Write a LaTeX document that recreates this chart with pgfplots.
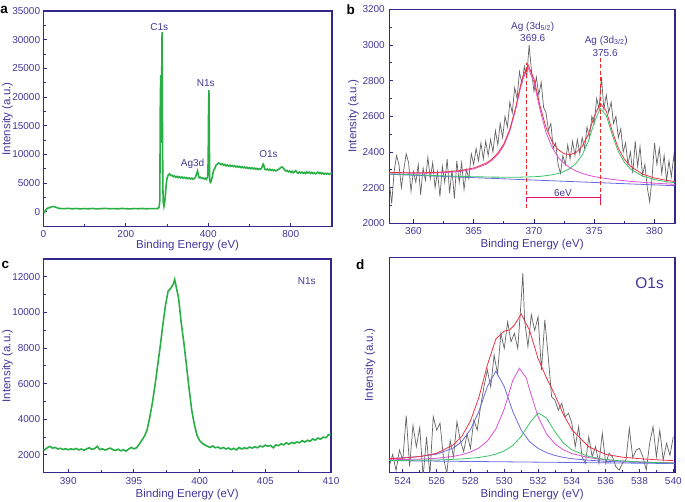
\documentclass[border=0pt]{standalone}
\usepackage{fontspec}
\setmainfont{Liberation Sans}
\usepackage{pgfplots}
\pgfplotsset{compat=1.18}
\definecolor{axblue}{RGB}{50,40,140}
\definecolor{txblue}{RGB}{65,55,155}
\definecolor{sgreen}{RGB}{40,175,70}
\definecolor{gtrace}{RGB}{100,100,100}
\definecolor{fred}{RGB}{238,50,70}
\definecolor{fmag}{RGB}{222,80,210}
\definecolor{fgreen}{RGB}{60,195,105}
\definecolor{fblue}{RGB}{105,105,225}
\definecolor{dred}{RGB}{235,40,40}
\definecolor{crim}{RGB}{230,20,100}
\pgfplotsset{
 myax/.style={
  scale only axis, anchor=south west,
  axis line style={draw=axblue, line width=1.3pt},
  tick style={draw=axblue, line width=0.9pt},
  tick align=inside, tick pos=left,
  major tick length=4pt, minor tick length=2.5pt,
  tick label style={font=\fontsize{10}{12}\selectfont, text=txblue, inner sep=0pt},
  label style={font=\fontsize{11.5}{13}\selectfont, text=txblue},
  scaled ticks=false,
  /pgf/number format/assume math mode=true,
  /pgf/number format/set thousands separator={},
  ylabel={Intensity (a.u.)},
  xlabel={Binding Energy (eV)},
  clip=true,
 },
}
\begin{document}
\begin{tikzpicture}
\useasboundingbox (0,0) rectangle (685pt,501pt);
% ---------------- panel a ----------------
\begin{axis}[myax, at={(43.3pt,274.3pt)}, width=288.7pt, height=215.7pt,
  xmin=0, xmax=700, ymin=-2620, ymax=35000,
  xtick={0,200,400,600}, xticklabels={0,200,400,800}, minor xtick={100,300,500},
  ytick={0,5000,...,35000}, minor ytick={2500,7500,...,32500},
  xticklabel style={anchor=north, yshift=-3.6pt},
  yticklabel style={anchor=east, xshift=-3pt},
  xlabel style={at={(axis description cs:0.5,0)}, anchor=base, yshift=-21.8pt},
  ylabel style={at={([xshift=-36pt]axis description cs:0,0.5)}, anchor=center}]
\addplot[sgreen, line width=1.6pt] coordinates {
(0,100) (3,-100) (6,300) (10,600) (15,700) (20,850) (25,900) (30,780) (35,650) (40,560)
(50,520) (60,580) (70,500) (80,560) (90,480) (100,540) (110,500) (120,560) (130,490) (140,530)
(150,580) (160,510) (170,540) (180,490) (190,560) (200,520) (210,480) (220,550) (230,510) (240,560)
(250,500) (260,540) (270,520) (278,560) (281,800) (282.5,2000) (283.7,18500) (284.7,23800) (285.7,12000)
(286.7,20000) (288,31300) (289,14000) (290,4000) (291,1500) (292.5,900) (294,1400) (296,2900)
(298,4700) (300,5800) (303,6400) (306,6600) (309,6300) (312,6350) (315,6100) (318,6250) (321,6000)
(324,6150) (327,5950) (330,6100) (333,5900) (336,6050) (339,5850) (342,6000) (345,5800) (348,5950)
(351,5750) (354,5900) (357,5700) (360,5850) (363,5650) (366,5800) (369,6000) (372,6700) (374,7100)
(376,6400) (378,5900) (381,6000) (384,5800) (387,5900) (390,5700) (393,5850) (395,5650) (397,5900)
(398.5,6000) (399.8,9000) (400.7,17000) (401.6,21200) (402.5,13000) (403.5,5500) (405,5100)
(407,5300) (410,6200) (413,7200) (416,7600) (419,8100) (422,8300) (425,8500) (428,8400) (431,8200)
(434,8350) (437,8100) (440,8250) (443,8000) (446,8150) (449,7950) (452,8100) (455,7900) (458,8050)
(461,7850) (464,8000) (467,7800) (470,7950) (473,7750) (476,7900) (479,7700) (482,7850) (485,7650)
(488,7800) (491,7600) (494,7750) (497,7550) (500,7700) (503,7500) (506,7650) (509,7450) (512,7600)
(515,7400) (518,7550) (521,7350) (524,7500) (527,7400) (530,7700) (533,8300) (535,8000) (537,7400)
(540,7300) (543,7450) (546,7250) (549,7400) (552,7200) (555,7350) (558,7150) (561,7300) (564,7100)
(567,7250) (570,7350) (573,7500) (576,7700) (579,7800) (582,7600) (585,7300) (588,7100) (591,7200)
(594,6950) (597,7100) (600,6850) (603,7050) (606,6800) (609,6950) (612,7150) (615,6850) (618,6700)
(621,6950) (624,6750) (627,6900) (630,6700) (633,6850) (636,6650) (639,6950) (642,6750) (645,6900)
(648,6700) (651,6850) (654,6650) (657,6800) (660,6600) (663,6750) (666,6900) (669,6650) (672,6800)
(675,6600) (678,6750) (681,6550) (684,6700) (687,6550) (690,6700) (693,6500) (696,6650) (700,6700)};
\node[font=\fontsize{10}{12}\selectfont, text=txblue] at (axis cs:281,32200) {C1s};
\node[font=\fontsize{10}{12}\selectfont, text=txblue] at (axis cs:394,22500) {N1s};
\node[font=\fontsize{10}{12}\selectfont, text=txblue] at (axis cs:362,8300) {Ag3d};
\node[font=\fontsize{10}{12}\selectfont, text=txblue] at (axis cs:546,10060) {O1s};
\end{axis}
% ---------------- panel b ----------------
\begin{axis}[myax, at={(389.3pt,277.7pt)}, width=285.7pt, height=214pt,
  xmin=358, xmax=381.7, ymin=2000, ymax=3200,
  xtick={360,365,...,380}, minor xtick={362.5,367.5,372.5,377.5},
  ytick={2000,2200,...,3200}, minor ytick={2100,2300,...,3100},
  xticklabel style={anchor=north, yshift=-4.4pt},
  yticklabel style={anchor=east, xshift=-4.3pt},
  xlabel style={at={(axis description cs:0.5,0)}, anchor=base, yshift=-24pt},
  ylabel style={at={([xshift=-36pt]axis description cs:0,0.5)}, anchor=center}]
\addplot[gtrace, line width=0.7pt] coordinates {
(358.0,2230) (358.2,2110) (358.4,2290) (358.6,2380) (358.8,2330) (359.0,2200) (359.2,2300) (359.4,2390)
(359.6,2340) (359.8,2180) (360.0,2290) (360.2,2230) (360.4,2330) (360.6,2160) (360.8,2310) (361.0,2240)
(361.2,2370) (361.4,2250) (361.6,2340) (361.8,2200) (362.0,2290) (362.2,2150) (362.4,2320) (362.6,2230)
(362.8,2360) (363.0,2170) (363.2,2300) (363.4,2140) (363.6,2350) (363.8,2230) (364.0,2340) (364.2,2190)
(364.4,2300) (364.6,2250) (364.8,2390) (365.0,2330) (365.2,2420) (365.4,2350) (365.6,2450) (365.8,2360)
(366.0,2460) (366.2,2380) (366.4,2470) (366.6,2400) (366.8,2520) (367.0,2440) (367.2,2560) (367.4,2480)
(367.6,2600) (367.8,2540) (368.0,2680) (368.2,2620) (368.4,2760) (368.6,2700) (368.8,2850) (369.0,2780)
(369.2,2880) (369.4,2820) (369.6,3000) (369.8,2850) (370.0,2740) (370.2,2820) (370.4,2720) (370.6,2790)
(370.8,2650) (371.0,2620) (371.2,2520) (371.4,2560) (371.6,2420) (371.8,2450) (372.0,2330) (372.2,2280)
(372.4,2380) (372.6,2330) (372.8,2440) (373.0,2360) (373.2,2460) (373.4,2380) (373.6,2470) (373.8,2390)
(374.0,2480) (374.2,2420) (374.4,2540) (374.6,2480) (374.8,2600) (375.0,2560) (375.2,2700) (375.4,2640)
(375.6,2820) (375.8,2640) (376.0,2720) (376.2,2620) (376.4,2680) (376.6,2560) (376.8,2600) (377.0,2480)
(377.2,2530) (377.4,2400) (377.6,2450) (377.8,2330) (378.0,2400) (378.2,2280) (378.4,2460) (378.6,2320)
(378.8,2430) (379.0,2270) (379.2,2330) (379.4,2200) (379.6,2120) (379.8,2260) (380.0,2450) (380.2,2330)
(380.4,2420) (380.6,2280) (380.8,2380) (381.0,2240) (381.2,2350) (381.4,2260) (381.6,2380) (381.8,2230)
(382.0,2270)};
\addplot[fblue, line width=0.8pt] coordinates {(358,2275) (382,2210)};
\addplot[fgreen, line width=0.8pt] coordinates {
(358,2277) (359,2275) (360,2272) (361,2270) (362,2267) (363,2265) (364,2263) (365,2261) (366,2260)
(366.5,2259) (367,2259) (367.5,2258) (368,2258) (368.5,2258) (369,2259) (369.5,2260) (370,2261)
(370.5,2263) (371,2267) (371.5,2272) (372,2279) (372.5,2291) (373,2308) (373.5,2337) (374,2383)
(374.5,2458) (375,2565) (375.5,2645) (376,2604) (376.5,2494) (377,2402) (377.5,2342) (378,2305)
(379,2265) (380,2245) (381,2233) (382,2225)};
\addplot[fmag, line width=0.8pt] coordinates {
(358,2283) (359,2282) (360,2281) (361,2281) (362,2283) (363,2286) (364,2292) (365,2305) (366,2330)
(366.5,2352) (367,2385) (367.5,2436) (368,2518) (368.5,2643) (369,2794) (369.5,2874) (370,2792)
(370.5,2637) (371,2510) (371.5,2426) (372,2371) (372.5,2335) (373,2311) (373.5,2293) (374,2280)
(374.5,2270) (375,2262) (375.5,2256) (376,2251) (376.5,2246) (377,2242) (377.5,2239) (378,2235)
(379,2230) (380,2225) (381,2221) (382,2217)};
\addplot[fred, line width=0.8pt] coordinates {
(358,2285) (359,2284) (360,2284) (361,2284) (362,2286) (363,2290) (364,2297) (365,2310) (366,2336)
(366.5,2359) (367,2393) (367.5,2445) (368,2528) (368.5,2654) (369,2808) (369.5,2890) (370,2810)
(370.5,2659) (371,2537) (371.5,2459) (372,2413) (372.5,2390) (373,2385) (373.5,2397) (374,2431)
(374.5,2498) (375,2599) (375.5,2673) (376,2629) (376.5,2515) (377,2420) (377.5,2359) (378,2320)
(379,2276) (380,2254) (381,2241) (382,2231)};
\addplot[dred, line width=1.4pt, dash pattern=on 4pt off 2.5pt] coordinates {(369.4,2085) (369.4,2900)};
\addplot[dred, line width=1.4pt, dash pattern=on 4pt off 2.5pt] coordinates {(375.5,2105) (375.5,2930)};
\addplot[crim, line width=1.4pt] coordinates {(369.4,2120) (369.4,2144) (375.5,2144) (375.5,2120)};
\node[font=\fontsize{10}{12}\selectfont, text=txblue] at (axis cs:369.9,3102) {Ag (3d\textsubscript{5/2})};
\node[font=\fontsize{10}{12}\selectfont, text=txblue] at (axis cs:369.9,3037) {369.6};
\node[font=\fontsize{10}{12}\selectfont, text=txblue] at (axis cs:376.0,3024) {Ag (3d\textsubscript{3/2})};
\node[font=\fontsize{10}{12}\selectfont, text=txblue] at (axis cs:375.9,2953) {375.6};
\node[font=\fontsize{10}{12}\selectfont, text=txblue] at (axis cs:372.4,2172) {6eV};
\end{axis}
% ---------------- panel c ----------------
\begin{axis}[myax, at={(43.3pt,28.3pt)}, width=287.7pt, height=213.7pt,
  xmin=388.1, xmax=410, ymin=1000, ymax=13000,
  xtick={390,395,...,410}, minor xtick={392.5,397.5,402.5,407.5},
  ytick={2000,4000,...,12000}, minor ytick={3000,5000,...,11000},
  xticklabel style={anchor=north, yshift=-4.6pt},
  yticklabel style={anchor=east, xshift=-3pt},
  xlabel style={at={(axis description cs:0.5,0)}, anchor=base, yshift=-25.2pt},
  ylabel style={at={([xshift=-36pt]axis description cs:0,0.5)}, anchor=center}]
\addplot[sgreen, line width=1.6pt] coordinates {
(388.0,2330) (388.2,2280) (388.4,2400) (388.6,2480) (388.8,2380) (389.0,2420) (389.2,2330) (389.4,2370)
(389.6,2300) (389.8,2350) (390.0,2290) (390.2,2340) (390.4,2300) (390.6,2360) (390.8,2280) (391.0,2330)
(391.2,2260) (391.4,2340) (391.6,2400) (391.8,2310) (392.0,2350) (392.2,2480) (392.4,2300) (392.6,2340)
(392.8,2270) (393.0,2330) (393.2,2380) (393.4,2290) (393.6,2250) (393.8,2320) (394.0,2230) (394.2,2290)
(394.4,2210) (394.6,2330) (394.8,2420) (395.0,2340) (395.2,2400) (395.4,2600) (395.6,2820) (395.8,3050)
(396.0,3400) (396.2,4100) (396.4,4900) (396.6,5900) (396.8,7000) (397.0,8100) (397.2,9300) (397.4,10400)
(397.6,11200) (397.8,11350) (398.0,11600) (398.1,11850) (398.2,11500) (398.4,10800) (398.6,9400)
(398.8,8300) (399.0,7000) (399.2,5700) (399.4,4500) (399.6,3700) (399.8,3100) (400.0,2800) (400.2,2650)
(400.4,2560) (400.6,2480) (400.8,2420) (401.0,2500) (401.2,2400) (401.4,2440) (401.6,2350) (401.8,2420)
(402.0,2330) (402.2,2390) (402.4,2300) (402.6,2370) (402.8,2280) (403.0,2420) (403.2,2330) (403.4,2400)
(403.6,2350) (403.8,2440) (404.0,2380) (404.2,2460) (404.4,2400) (404.6,2500) (404.8,2450) (405.0,2550)
(405.2,2480) (405.4,2530) (405.6,2400) (405.8,2560) (406.0,2520) (406.2,2620) (406.4,2560) (406.6,2680)
(406.8,2600) (407.0,2700) (407.2,2640) (407.4,2730) (407.6,2680) (407.8,2800) (408.0,2720) (408.2,2820)
(408.4,2760) (408.6,2900) (408.8,2830) (409.0,2950) (409.2,2880) (409.4,3000) (409.6,2960) (409.8,3120)
(410.0,3150)};
\node[font=\fontsize{10}{12}\selectfont, text=txblue] at (axis cs:408.15,11775) {N1s};
\end{axis}
% ---------------- panel d ----------------
\begin{axis}[myax, at={(389.3pt,28.3pt)}, width=285.7pt, height=215.4pt,
  xmin=523.2, xmax=540.1, ymin=0, ymax=100,
  xtick={524,526,...,540}, minor xtick={525,527,...,539}, ytick=\empty,
  xticklabel style={anchor=north, yshift=-5pt},
  xlabel style={at={(axis description cs:0.5,0)}, anchor=base, yshift=-25.2pt},
  ylabel style={at={([xshift=-19.3pt]axis description cs:0,0.5)}, anchor=center}]
\addplot[gtrace, line width=0.7pt] coordinates {
(523.2,3.0) (523.4,8.5) (523.6,1.0) (523.8,10.5) (524.0,6.0) (524.2,26.5) (524.4,3.0) (524.6,22.0)
(524.8,12.0) (525.0,21.0) (525.2,-2.0) (525.4,16.5) (525.6,-1.0) (525.8,26.0) (526.0,19.8) (526.2,23.0)
(526.4,7.4) (526.6,-0.5) (526.8,15.0) (527.0,7.4) (527.2,23.7) (527.4,15.0) (527.6,9.8) (527.8,18.0)
(528.0,11.3) (528.2,24.5) (528.4,19.8) (528.6,30.7) (528.8,40.0) (529.0,47.7) (529.2,39.9) (529.4,54.6)
(529.6,46.0) (529.8,64.7) (530.0,57.7) (530.2,70.0) (530.4,60.8) (530.6,64.7) (530.8,57.7) (531.0,80.0)
(531.1,92.6) (531.2,71.0) (531.4,58.5) (531.6,73.4) (531.8,66.0) (532.0,72.4) (532.2,47.7) (532.4,70.9)
(532.6,53.9) (532.8,35.3) (533.0,33.7) (533.2,29.0) (533.4,32.2) (533.6,26.0) (533.8,27.6) (534.0,22.9)
(534.2,12.1) (534.4,21.4) (534.6,7.4) (534.8,4.3) (535.0,16.7) (535.2,7.4) (535.4,12.1) (535.6,4.3)
(535.8,18.3) (536.0,4.3) (536.2,9.0) (536.4,7.4) (536.6,2.8) (536.8,1.2) (537.0,4.5) (537.2,5.9)
(537.4,20.6) (537.6,7.0) (537.8,10.5) (538.0,11.3) (538.2,7.4) (538.4,1.2) (538.6,13.6) (538.8,21.4)
(539.0,7.4) (539.2,19.8) (539.4,5.9) (539.6,13.6) (539.8,8.0) (540.0,16.7)};
\addplot[fblue, line width=0.8pt] coordinates {(523.2,5.6) (540.1,4.25)};
\addplot[fblue, line width=0.8pt] coordinates {
(523.2,6.6) (524,6.9) (525,7.5) (526,8.6) (527,11.5) (527.5,14.6) (528,20.0) (528.5,28.5)
(529,40.0) (529.5,47.10) (530,40.0) (530.5,28.5) (531,19.8) (531.5,14.4) (532,11.3) (532.5,9.3)
(533,8.0) (533.5,7.1) (534,6.5) (535,5.8) (536,5.3) (537,5.0) (538,4.8) (539,4.6) (540,4.5)};
\addplot[fmag, line width=0.8pt] coordinates {
(523.2,6.0) (524,6.1) (525,6.3) (526,6.7) (527,7.6) (527.5,8.4) (528,9.6) (528.5,11.5)
(529,14.7) (529.5,20.2) (530,29.6) (530.5,42.8) (530.9,48.5) (531.3,44.0) (531.5,38.5) (532,26.0) (532.5,18.0)
(533,13.4) (533.5,10.6) (534,8.9) (535,7.0) (536,6.0) (537,5.4) (538,5.0) (539,4.8) (540,4.6)};
\addplot[fgreen, line width=0.8pt] coordinates {
(523.2,5.7) (524,5.7) (525,5.8) (526,5.9) (527,6.2) (527.5,6.4) (528,6.7) (528.5,7.1)
(529,7.7) (529.5,8.6) (530,10.1) (530.5,12.6) (531,16.8) (531.5,23.0) (532,27.8) (532.5,25.4)
(533,19.0) (533.5,13.8) (534,10.6) (535,7.5) (536,6.1) (537,5.4) (538,5.0) (539,4.7) (540,4.5)};
\addplot[fred, line width=0.8pt] coordinates {
(523.2,6.5) (524,6.8) (525,7.5) (526,9.0) (527,13.0) (527.5,17.0) (528,24.0) (528.5,35.0)
(529,50.0) (529.5,62.0) (530,65.8) (530.3,66.2) (530.6,68.5) (531,73.7) (531.5,66.0) (532,53.0)
(532.5,44.0) (533,36.0) (533.5,27.0) (534,20.0) (535,12.0) (536,8.5) (537,7.2) (538,6.5) (539,6.0) (540,5.6)};
\node[font=\fontsize{15.5}{17}\selectfont, text=txblue] at (axis cs:538.6,88.2) {O1s};
\end{axis}
% panel letters
\node[anchor=base west, inner sep=0pt, font=\bfseries\fontsize{13.5}{15}\selectfont] at (0.3pt,487pt) {a};
\node[anchor=base west, inner sep=0pt, font=\bfseries\fontsize{13.5}{15}\selectfont] at (346.5pt,486pt) {b};
\node[anchor=base west, inner sep=0pt, font=\bfseries\fontsize{13.5}{15}\selectfont] at (1.5pt,232pt) {c};
\node[anchor=base west, inner sep=0pt, font=\bfseries\fontsize{13.5}{15}\selectfont] at (356pt,231pt) {d};
\end{tikzpicture}
\end{document}
